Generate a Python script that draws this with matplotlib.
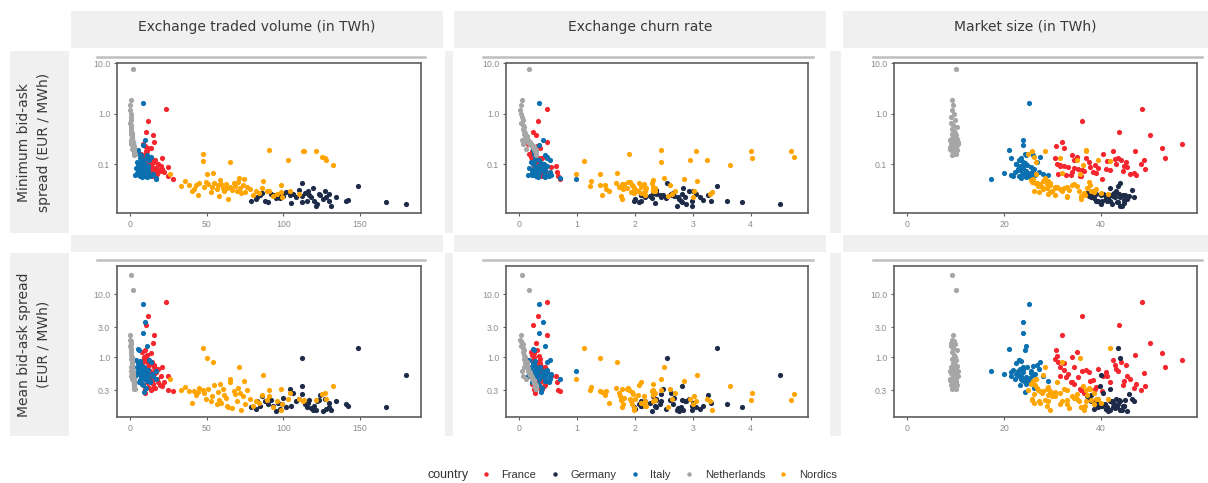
import matplotlib
matplotlib.use("Agg")
import matplotlib.pyplot as plt
from matplotlib.patches import Rectangle
from matplotlib.lines import Line2D
from matplotlib.ticker import NullLocator

# ---------------- data ----------------
countries = ["France", "Germany", "Italy", "Netherlands", "Nordics"]
country_colors = ["#F5262E", "#1D2A48", "#0B70AF", "#A6A6A6", "#FFA500"]

column_titles = ["Exchange traded volume (in TWh)", "Exchange churn rate", "Market size (in TWh)"]
row_titles = ["Minimum bid-ask\nspread (EUR / MWh)", "Mean bid-ask spread\n(EUR / MWh)"]

col1_ticks = [0, 50, 100, 150]
col2_ticks = [0, 1, 2, 3, 4]
col3_ticks = [0, 20, 40]
row1_ticks = [0.1, 1.0, 10.0]
row1_labels = ["0.1", "1.0", "10.0"]
row2_ticks = [0.3, 1.0, 3.0, 10.0]
row2_labels = ["0.3", "1.0", "3.0", "10.0"]

# France
fr_volume = [23.2, 11.8, 10.4, 14.8, 8.3, 15.4, 9.5, 12.0, 13.5, 9.0,
             11.0, 10.2, 20.6, 12.5, 13.2, 14.0, 16.5, 12.8, 10.5, 11.5,
             9.8, 13.0, 15.5, 12.3, 16.0, 14.5, 17.2, 18.5, 19.6, 25.0,
             17.8, 16.2, 15.0, 21.0, 24.5, 28.2, 8.5, 9.2, 10.8, 11.2,
             7.5, 8.8, 13.8, 12.0, 14.2, 10.0, 16.8, 18.0, 7.8, 9.6,
             13.5, 11.6, 15.8, 7.2, 10.8, 22.0, 20.0]
fr_market = [48.5, 36.1, 43.7, 50.2, 56.9, 31.9, 30.7, 32.3, 52.6, 34.1,
             47.1, 42.5, 53.3, 43.0, 43.6, 44.2, 49.0, 41.3, 31.0, 31.6,
             32.5, 33.2, 34.5, 35.3, 36.2, 37.7, 39.5, 42.0, 44.5, 45.5,
             46.0, 46.8, 47.3, 49.2, 36.0, 40.2, 31.2, 32.8, 33.8, 30.5,
             35.0, 37.5, 38.3, 39.0, 35.8, 36.5, 41.0, 43.2, 34.5, 38.8,
             48.3, 44.8, 45.2, 40.5, 37.0, 34.0, 31.5]
fr_churn = [0.48, 0.33, 0.24, 0.29, 0.15, 0.48, 0.31, 0.37, 0.26, 0.26,
            0.23, 0.24, 0.39, 0.29, 0.30, 0.32, 0.34, 0.31, 0.34, 0.36,
            0.30, 0.39, 0.45, 0.35, 0.44, 0.38, 0.44, 0.44, 0.44, 0.55,
            0.39, 0.35, 0.32, 0.43, 0.68, 0.70, 0.27, 0.28, 0.32, 0.37,
            0.21, 0.23, 0.36, 0.31, 0.40, 0.27, 0.41, 0.42, 0.23, 0.25,
            0.28, 0.26, 0.35, 0.18, 0.29, 0.65, 0.63]
fr_min = [1.22, 0.70, 0.44, 0.37, 0.256, 0.27, 0.226, 0.205, 0.21, 0.15,
          0.18, 0.18, 0.133, 0.125, 0.13, 0.12, 0.12, 0.117, 0.1, 0.095,
          0.09, 0.088, 0.085, 0.08, 0.078, 0.087, 0.085, 0.076, 0.072, 0.086,
          0.064, 0.066, 0.062, 0.079, 0.058, 0.05, 0.065, 0.062, 0.06, 0.13,
          0.14, 0.11, 0.07, 0.068, 0.058, 0.072, 0.08, 0.1, 0.12, 0.095,
          0.1, 0.09, 0.11, 0.16, 0.13, 0.07, 0.09]
fr_mean = [7.6, 4.6, 3.2, 1.67, 0.9, 2.3, 1.3, 0.8, 1.16, 1.0,
           1.1, 0.9, 0.69, 0.75, 0.6, 0.85, 0.56, 0.5, 1.05, 0.7,
           0.62, 0.55, 0.7, 0.48, 0.6, 0.42, 0.65, 0.4, 0.36, 0.5,
           0.45, 0.33, 0.38, 0.35, 0.3, 0.29, 0.85, 0.48, 0.4, 0.95,
           1.2, 0.58, 0.44, 0.34, 0.31, 0.27, 0.58, 0.65, 0.38, 0.32,
           0.3, 0.42, 0.75, 0.5, 0.62, 0.4, 0.5]

# Germany
de_volume = [148.8, 112.0, 180.0, 112.0, 166.7, 78.7, 104.5, 106.0, 95.0, 83.0,
             84.5, 82.0, 90.2, 92.0, 93.5, 96.5, 97.5, 108.0, 110.0, 114.0,
             115.5, 117.0, 118.0, 120.0, 121.0, 122.0, 124.0, 126.0, 127.2, 128.0,
             129.5, 131.0, 134.0, 141.0, 142.0, 100.0, 102.0, 88.0, 86.0, 112.0,
             116.0, 119.0, 123.0, 105.0, 99.0, 130.0]
de_market = [43.6, 43.9, 40.0, 39.9, 43.3, 39.5, 42.0, 40.5, 41.5, 38.0,
             40.0, 41.0, 43.5, 39.0, 44.5, 42.5, 38.5, 44.0, 46.4, 42.8,
             41.2, 45.0, 43.0, 40.2, 44.4, 42.3, 38.0, 45.5, 43.2, 41.0,
             39.0, 44.0, 46.8, 39.3, 44.8, 37.5, 43.2, 42.0, 37.2, 45.8,
             38.7, 42.0, 43.8, 44.8, 40.8, 42.6]
de_churn = [3.41, 2.55, 4.50, 2.81, 3.85, 1.99, 2.49, 2.62, 2.29, 2.18,
            2.11, 2.00, 2.07, 2.36, 2.10, 2.27, 2.53, 2.45, 2.37, 2.66,
            2.80, 2.60, 2.74, 2.99, 2.73, 2.88, 3.26, 2.77, 2.94, 3.12,
            3.32, 2.98, 2.86, 3.59, 3.17, 2.67, 2.36, 2.10, 2.31, 2.45,
            3.00, 2.83, 2.81, 2.34, 2.43, 3.05]
de_min = [0.037, 0.043, 0.016, 0.0175, 0.0175, 0.0187, 0.0244, 0.026, 0.021, 0.022,
          0.025, 0.02, 0.0175, 0.026, 0.024, 0.023, 0.021, 0.022, 0.031, 0.027,
          0.019, 0.025, 0.022, 0.019, 0.0151, 0.016, 0.024, 0.02, 0.029, 0.022,
          0.0185, 0.015, 0.022, 0.019, 0.0195, 0.023, 0.028, 0.019, 0.027, 0.023,
          0.029, 0.034, 0.026, 0.017, 0.024, 0.026]
de_mean = [1.39, 0.96, 0.52, 0.35, 0.16, 0.16, 0.32, 0.27, 0.142, 0.2,
           0.17, 0.15, 0.18, 0.21, 0.17, 0.19, 0.15, 0.2, 0.22, 0.18,
           0.16, 0.21, 0.155, 0.17, 0.148, 0.2, 0.25, 0.14, 0.22, 0.15,
           0.19, 0.145, 0.2, 0.18, 0.17, 0.23, 0.16, 0.2, 0.24, 0.26,
           0.19, 0.145, 0.21, 0.17, 0.18, 0.16]

# Italy
it_volume = [8.5, 17.0, 10.0, 8.3, 11.0, 5.0, 6.0, 4.5, 3.5, 12.5,
             13.5, 6.5, 7.0, 5.5, 9.0, 7.5, 10.5, 6.8, 8.0, 11.5,
             9.5, 7.2, 12.0, 8.8, 6.2, 10.8, 14.5, 5.8, 9.8, 7.8,
             11.2, 16.8, 13.0, 6.5, 4.8, 8.2, 9.2, 10.2, 5.2, 7.6,
             12.8, 15.0, 8.6, 9.6, 6.9, 11.8, 4.2, 10.6]
it_market = [25.2, 17.3, 23.9, 24.0, 24.5, 21.0, 24.3, 20.0, 21.5, 23.0,
             27.5, 23.5, 26.8, 22.5, 24.8, 23.2, 25.5, 24.0, 22.8, 26.0,
             23.6, 24.5, 22.2, 25.0, 23.8, 24.2, 26.5, 25.8, 23.0, 24.6,
             25.3, 23.5, 29.0, 21.8, 24.0, 23.4, 24.4, 26.2, 22.9, 25.6,
             24.7, 28.0, 27.3, 22.5, 26.0, 23.9, 23.0, 21.5]
it_churn = [0.34, 0.98, 0.42, 0.35, 0.45, 0.24, 0.25, 0.23, 0.16, 0.54,
            0.49, 0.28, 0.26, 0.24, 0.36, 0.32, 0.41, 0.28, 0.35, 0.44,
            0.40, 0.29, 0.54, 0.35, 0.26, 0.45, 0.55, 0.22, 0.43, 0.32,
            0.44, 0.71, 0.45, 0.30, 0.20, 0.35, 0.38, 0.39, 0.23, 0.30,
            0.52, 0.54, 0.32, 0.43, 0.27, 0.49, 0.18, 0.49]
it_min = [1.6, 0.05, 0.3, 0.24, 0.15, 0.19, 0.16, 0.066, 0.06, 0.12,
          0.14, 0.13, 0.11, 0.1, 0.095, 0.09, 0.088, 0.085, 0.08, 0.078,
          0.075, 0.072, 0.07, 0.068, 0.065, 0.063, 0.062, 0.06, 0.058, 0.056,
          0.055, 0.054, 0.06, 0.058, 0.11, 0.12, 0.105, 0.082, 0.075, 0.067,
          0.059, 0.065, 0.07, 0.1, 0.15, 0.092, 0.085, 0.13]
it_mean = [7.0, 0.6, 3.6, 2.4, 1.5, 1.35, 1.3, 0.55, 0.5, 0.9,
           0.85, 0.88, 0.75, 0.8, 0.7, 0.65, 0.6, 0.58, 0.55, 0.52,
           0.5, 0.48, 0.46, 0.45, 0.44, 0.42, 0.55, 0.4, 0.5, 0.38,
           0.47, 0.45, 0.42, 0.62, 0.7, 0.36, 0.28, 0.33, 0.6, 0.56,
           0.4, 0.5, 0.65, 0.54, 0.72, 0.62, 0.9, 0.58]

# Netherlands
nl_volume = [1.7, 0.5, 0.3, 0.2, 0.4, 0.5, 0.6, 0.3, 0.7, 0.8,
             0.6, 0.9, 1.0, 0.8, 1.1, 1.2, 1.0, 1.3, 1.4, 1.2,
             1.5, 1.6, 1.4, 1.7, 1.8, 1.6, 1.9, 2.0, 1.8, 2.1,
             2.2, 2.0, 2.3, 2.4, 2.2, 2.5, 2.6, 2.4, 2.7, 2.8,
             2.6, 2.9, 2.5, 2.8, 3.0, 2.7, 0.4, 0.6, 1.1, 0.9]
nl_market = [10.0, 9.3, 9.4, 9.2, 9.6, 9.1, 9.8, 9.0, 9.5, 10.2,
             9.3, 9.7, 9.9, 9.2, 10.1, 9.6, 9.4, 9.8, 10.3, 9.0,
             9.5, 9.9, 9.3, 10.4, 9.7, 9.1, 10.0, 9.6, 9.4, 10.2,
             9.8, 9.2, 9.5, 10.1, 8.9, 9.7, 10.0, 9.3, 9.9, 10.3,
             9.0, 9.6, 9.4, 9.8, 10.1, 9.2, 8.8, 10.4, 8.9, 10.0]
nl_churn = [0.17, 0.05, 0.03, 0.02, 0.04, 0.05, 0.06, 0.03, 0.07, 0.08,
            0.06, 0.09, 0.10, 0.09, 0.11, 0.13, 0.11, 0.13, 0.14, 0.13,
            0.16, 0.16, 0.15, 0.16, 0.19, 0.18, 0.19, 0.21, 0.19, 0.21,
            0.22, 0.22, 0.24, 0.24, 0.25, 0.26, 0.26, 0.26, 0.27, 0.27,
            0.29, 0.30, 0.27, 0.29, 0.30, 0.29, 0.05, 0.06, 0.12, 0.09]
nl_min = [7.5, 1.9, 1.5, 1.2, 1.0, 0.85, 0.75, 0.65, 0.6, 0.55,
          0.5, 0.45, 0.42, 0.4, 0.38, 0.36, 0.35, 0.33, 0.32, 0.31,
          0.3, 0.29, 0.28, 0.28, 0.27, 0.26, 0.26, 0.25, 0.25, 0.24,
          0.24, 0.23, 0.23, 0.22, 0.22, 0.21, 0.21, 0.2, 0.2, 0.19,
          0.19, 0.18, 0.18, 0.17, 0.16, 0.15, 0.3, 0.25, 0.2, 0.28]
nl_mean = [11.5, 20.0, 2.3, 1.9, 1.8, 1.7, 1.6, 1.5, 1.4, 1.3,
           1.2, 1.1, 1.0, 0.95, 0.9, 0.85, 0.8, 0.75, 0.72, 0.7,
           0.68, 0.65, 0.62, 0.6, 0.58, 0.56, 0.55, 0.53, 0.52, 0.5,
           0.48, 0.47, 0.45, 0.44, 0.43, 0.42, 0.4, 0.39, 0.38, 0.37,
           0.36, 0.35, 0.34, 0.33, 0.32, 0.31, 0.6, 0.5, 0.45, 0.7]

# Nordics
no_volume = [47.3, 47.3, 65.2, 90.8, 103.2, 112.8, 113.5, 121.2, 125.0, 127.0,
             128.0, 132.5, 26.1, 50.0, 54.3, 71.3, 86.5, 33.2, 38.2, 40.7,
             42.0, 42.8, 45.0, 48.0, 49.5, 51.0, 52.5, 53.5, 55.0, 56.5,
             57.5, 58.0, 59.5, 60.5, 61.5, 62.5, 63.5, 64.1, 65.0, 66.2,
             67.5, 68.5, 69.5, 70.5, 71.5, 72.5, 73.5, 75.0, 76.5, 78.0,
             80.0, 82.0, 84.0, 86.0, 89.0, 90.8, 93.0, 95.5, 98.3, 98.3,
             99.0, 36.0, 44.0, 58.8, 74.0, 104.0, 110.0]
no_market = [24.9, 41.9, 26.6, 37.0, 35.0, 37.0, 28.4, 25.8, 26.3, 31.5,
             39.4, 36.3, 26.6, 35.7, 32.0, 28.5, 28.1, 27.0, 27.5, 26.2,
             28.0, 29.0, 26.8, 27.8, 25.8, 28.8, 27.2, 30.5, 26.5, 31.5,
             29.5, 33.0, 27.5, 32.5, 30.0, 34.5, 28.8, 36.0, 31.0, 33.5,
             29.5, 35.0, 32.0, 37.5, 30.5, 36.5, 34.0, 38.5, 33.0, 39.0,
             36.8, 35.5, 40.0, 37.2, 38.0, 30.0, 36.0, 29.0, 37.8, 29.5,
             33.0, 29.0, 30.5, 25.5, 26.0, 38.5, 41.5]
no_churn = [1.90, 1.13, 2.45, 2.45, 2.95, 3.05, 4.00, 4.70, 4.75, 4.03,
            3.25, 3.65, 0.98, 1.40, 1.70, 2.50, 3.08, 1.23, 1.39, 1.55,
            1.50, 1.48, 1.68, 1.73, 1.92, 1.77, 1.93, 1.75, 2.08, 1.79,
            1.95, 1.76, 2.16, 1.86, 2.05, 1.81, 2.20, 1.78, 2.10, 1.98,
            2.29, 1.96, 2.17, 1.88, 2.34, 1.99, 2.16, 1.95, 2.32, 2.00,
            2.17, 2.31, 2.10, 2.31, 2.34, 3.03, 2.58, 3.29, 2.60, 3.33,
            3.00, 1.24, 1.44, 2.31, 2.85, 2.70, 2.65]
no_min = [0.16, 0.115, 0.11, 0.189, 0.12, 0.183, 0.185, 0.183, 0.14, 0.13,
          0.12, 0.096, 0.064, 0.064, 0.068, 0.054, 0.046, 0.037, 0.039, 0.030,
          0.032, 0.038, 0.042, 0.035, 0.045, 0.040, 0.028, 0.036, 0.043, 0.032,
          0.038, 0.023, 0.041, 0.034, 0.029, 0.040, 0.033, 0.0204, 0.036, 0.031,
          0.042, 0.037, 0.030, 0.044, 0.034, 0.027, 0.038, 0.028, 0.035, 0.032,
          0.025, 0.030, 0.027, 0.033, 0.029, 0.029, 0.023, 0.026, 0.038, 0.028,
          0.022, 0.046, 0.025, 0.048, 0.050, 0.030, 0.026]
no_mean = [0.3, 1.42, 0.45, 0.3, 0.22, 0.2, 0.21, 0.21, 0.26, 0.27,
           0.22, 0.35, 0.45, 0.96, 0.83, 0.70, 0.52, 0.3, 0.29, 0.186,
           0.29, 0.25, 0.33, 0.27, 0.22, 0.31, 0.2, 0.24, 0.36, 0.18,
           0.28, 0.21, 0.19, 0.32, 0.25, 0.23, 0.17, 0.16, 0.4, 0.155,
           0.29, 0.26, 0.2, 0.33, 0.27, 0.146, 0.24, 0.18, 0.3, 0.22,
           0.17, 0.2, 0.19, 0.25, 0.21, 0.24, 0.16, 0.2, 0.31, 0.146,
           0.18, 0.34, 0.28, 0.38, 0.42, 0.27, 0.22]

x_series = {
    "France": [fr_volume, fr_churn, fr_market],
    "Germany": [de_volume, de_churn, de_market],
    "Italy": [it_volume, it_churn, it_market],
    "Netherlands": [nl_volume, nl_churn, nl_market],
    "Nordics": [no_volume, no_churn, no_market],
}
y_series = {
    "France": [fr_min, fr_mean],
    "Germany": [de_min, de_mean],
    "Italy": [it_min, it_mean],
    "Netherlands": [nl_min, nl_mean],
    "Nordics": [no_min, no_mean],
}

# ---------------- layout ----------------
W, H = 1208, 483
fig = plt.figure(figsize=(W / 100, H / 100), dpi=100)
fig.patch.set_facecolor("white")

def fx(x):
    return x / W

def fy(y):
    return 1 - y / H

STRIP = "#F0F0F0"

def rect(x0, y0, x1, y1, color=STRIP):
    fig.add_artist(Rectangle((fx(x0), fy(y1)), (x1 - x0) / W, (y1 - y0) / H,
                             transform=fig.transFigure, facecolor=color,
                             edgecolor="none", zorder=0))

col_strip_x = [(71, 443), (454, 826), (843, 1208)]
left_strip_x = [(10, 69), (445, 453), (830, 841)]
row_strip_y = [(51, 233), (253, 436)]
top_strip_y = [(11, 48), (235, 252)]
line_x = [(97, 425), (483, 813), (873, 1202)]
line_y = [57, 260]
axes_x = [(117, 421), (506, 808), (894, 1197)]
axes_y = [(63, 213), (266, 417)]

for (x0, x1) in col_strip_x:
    for (y0, y1) in top_strip_y:
        rect(x0, y0, x1, y1)
for (x0, x1) in left_strip_x:
    for (y0, y1) in row_strip_y:
        rect(x0, y0, x1, y1)
for (x0, x1) in line_x:
    for yl in line_y:
        fig.add_artist(Line2D([fx(x0), fx(x1)], [fy(yl), fy(yl)],
                              transform=fig.transFigure, color="#BEBEBE",
                              lw=1.8, zorder=1))

xlims = [(-8.5, 189.7), (-0.225, 4.99), (-2.75, 59.9)]
ylims = [(0.0108, 10.05), (0.113, 28.1)]
xticks = [col1_ticks, col2_ticks, col3_ticks]
yticks = [(row1_ticks, row1_labels), (row2_ticks, row2_labels)]

TICKFONT = "Liberation Sans"

for r in range(2):
    for c in range(3):
        x0, x1 = axes_x[c]
        y0, y1 = axes_y[r]
        ax = fig.add_axes([fx(x0), fy(y1), (x1 - x0) / W, (y1 - y0) / H])
        for name, col in zip(countries, country_colors):
            ax.scatter(x_series[name][c], y_series[name][r], s=14, color=col,
                       linewidths=0, zorder=3)
        ax.set_yscale("log")
        ax.set_xlim(*xlims[c])
        ax.set_ylim(*ylims[r])
        ax.set_xticks(xticks[c])
        ax.set_xticklabels([str(t) for t in xticks[c]], fontfamily=TICKFONT)
        ax.set_yticks(yticks[r][0])
        ax.set_yticklabels(yticks[r][1], fontfamily=TICKFONT)
        ax.yaxis.set_minor_locator(NullLocator())
        for sp in ax.spines.values():
            sp.set_color("#5E5E5E")
            sp.set_linewidth(1.2)
        ax.tick_params(which="major", length=2.5, width=0.8, color="#5E5E5E",
                       labelsize=6.3, labelcolor="#8C8C8C", pad=2.5)
        ax.set_facecolor("white")

TITLE_COLOR = "#3A3A3A"
for (x0, x1), title in zip(col_strip_x, column_titles):
    fig.text(fx((x0 + x1) / 2), fy(27), title, ha="center", va="center",
             fontsize=10, color=TITLE_COLOR, family="DejaVu Sans")

for (y0, y1), title in zip(row_strip_y, row_titles):
    fig.text(fx(34), fy((y0 + y1) / 2), title, ha="center", va="center",
             rotation=90, fontsize=10, color=TITLE_COLOR, linespacing=1.5,
             multialignment="center", family="DejaVu Sans")

# legend
fig.text(fx(427), fy(475), "country", ha="left", va="center", fontsize=9,
         color="#333333", family="Liberation Sans")
handles = [Line2D([], [], marker="o", ls="", markersize=3.2,
                  markerfacecolor=col, markeredgewidth=0)
           for col in country_colors]
fig.legend(handles, countries, ncol=5, loc="center left",
           bbox_to_anchor=(fx(480.5), fy(475)), frameon=False,
           prop={"family": "Liberation Sans", "size": 8},
           labelcolor="#333333", handlelength=1.0, handletextpad=0.9,
           columnspacing=1.15, borderpad=0, borderaxespad=0)

fig.savefig("out.png", dpi=100, facecolor="white")
